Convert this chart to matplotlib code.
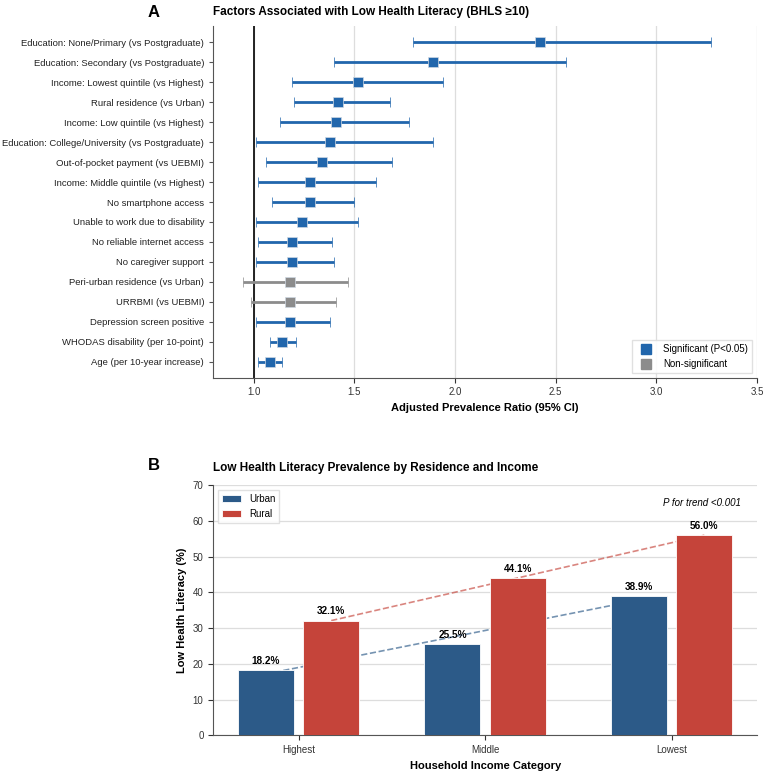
import numpy as np
import matplotlib
matplotlib.use('Agg')
import matplotlib.pyplot as plt
from matplotlib.lines import Line2D

plt.rcParams['font.family'] = ['Liberation Sans', 'DejaVu Sans']

# Panel A: adjusted prevalence ratios
factors = [
    'Education: None/Primary (vs Postgraduate)',
    'Education: Secondary (vs Postgraduate)',
    'Income: Lowest quintile (vs Highest)',
    'Rural residence (vs Urban)',
    'Income: Low quintile (vs Highest)',
    'Education: College/University (vs Postgraduate)',
    'Out-of-pocket payment (vs UEBMI)',
    'Income: Middle quintile (vs Highest)',
    'No smartphone access',
    'Unable to work due to disability',
    'No reliable internet access',
    'No caregiver support',
    'Peri-urban residence (vs Urban)',
    'URRBMI (vs UEBMI)',
    'Depression screen positive',
    'WHODAS disability (per 10-point)',
    'Age (per 10-year increase)',
]
apr = [2.42, 1.89, 1.52, 1.42, 1.41, 1.38, 1.34, 1.28, 1.28, 1.24,
       1.19, 1.19, 1.18, 1.18, 1.18, 1.14, 1.08]
ci_low = [1.79, 1.40, 1.19, 1.20, 1.13, 1.01, 1.06, 1.02, 1.09, 1.01,
          1.02, 1.01, 0.95, 0.99, 1.01, 1.08, 1.02]
ci_high = [3.27, 2.55, 1.94, 1.68, 1.77, 1.89, 1.69, 1.61, 1.50, 1.52,
           1.39, 1.40, 1.47, 1.41, 1.38, 1.21, 1.14]
significant = [True] * 12 + [False, False] + [True] * 3

# Panel B: prevalence by residence and income
income_cats = ['Highest', 'Middle', 'Lowest']
urban_prev = [18.2, 25.5, 38.9]
rural_prev = [32.1, 44.1, 56.0]

SIG = '#2166ac'
NONSIG = '#8c8c8c'
URBAN = '#2c5a88'
RURAL = '#c5443a'

fig = plt.figure(figsize=(7.67, 7.74), dpi=100)
axA = fig.add_axes([0.278, 0.512, 0.709, 0.454])
axB = fig.add_axes([0.278, 0.050, 0.709, 0.323])

# ---- Panel A ----
n = len(factors)
ypos = np.arange(n)[::-1]
for y, est, lo, hi, sig in zip(ypos, apr, ci_low, ci_high, significant):
    c = SIG if sig else NONSIG
    axA.errorbar(est, y, xerr=[[est - lo], [hi - est]], fmt='s', color=c,
                 ecolor=c, elinewidth=2, capsize=3.5, capthick=2,
                 markersize=7, markeredgecolor='#cfd8e3', markeredgewidth=0.5,
                 zorder=3)
axA.axvline(1.0, color='black', linewidth=1.2, zorder=2)
axA.set_yticks(ypos)
axA.set_yticklabels(factors, fontsize=6.8, color='#222222')
axA.set_xlim(0.8, 3.5)
axA.set_xticks([1.0, 1.5, 2.0, 2.5, 3.0, 3.5])
axA.tick_params(axis='x', labelsize=7, colors='#333333')
axA.tick_params(axis='y', length=3, color='#555555')
axA.grid(axis='x', color='#dddddd', linewidth=0.9, zorder=0)
axA.set_axisbelow(True)
for s in ['top', 'right']:
    axA.spines[s].set_visible(False)
for s in ['left', 'bottom']:
    axA.spines[s].set_color('#555555')
axA.set_xlabel('Adjusted Prevalence Ratio (95% CI)', fontsize=8, fontweight='bold')
axA.set_title('Factors Associated with Low Health Literacy (BHLS \u226510)',
              fontsize=8.5, fontweight='bold', loc='left', pad=8)
handles = [
    Line2D([], [], marker='s', linestyle='none', color=SIG, markersize=7,
           label='Significant (P<0.05)'),
    Line2D([], [], marker='s', linestyle='none', color=NONSIG, markersize=7,
           label='Non-significant'),
]
axA.legend(handles=handles, loc='lower right', fontsize=7, framealpha=0.9,
           edgecolor='#dddddd', fancybox=False)
fig.text(0.2, 0.984, 'A', fontsize=12, fontweight='bold', ha='center', va='center')

# ---- Panel B ----
x = np.arange(len(income_cats))
w = 0.3
off = 0.175
axB.bar(x - off, urban_prev, w, color=URBAN, edgecolor='white', linewidth=0.6,
        label='Urban', zorder=3)
axB.bar(x + off, rural_prev, w, color=RURAL, edgecolor='white', linewidth=0.6,
        label='Rural', zorder=3)
axB.plot(x - off, np.poly1d(np.polyfit(x, urban_prev, 1))(x), '--',
         color=URBAN, alpha=0.65, linewidth=1.2, zorder=2)
axB.plot(x + off, np.poly1d(np.polyfit(x, rural_prev, 1))(x), '--',
         color=RURAL, alpha=0.65, linewidth=1.2, zorder=2)
for xi, v in zip(x - off, urban_prev):
    axB.text(xi, v + 1.2, f'{v:.1f}%', ha='center', va='bottom', fontsize=7.2,
             fontweight='bold', zorder=4)
for xi, v in zip(x + off, rural_prev):
    axB.text(xi, v + 1.2, f'{v:.1f}%', ha='center', va='bottom', fontsize=7.2,
             fontweight='bold', zorder=4)
axB.set_ylim(0, 70)
axB.set_xticks(x)
axB.set_xticklabels(income_cats)
axB.tick_params(labelsize=7, colors='#333333')
axB.grid(axis='y', color='#dddddd', linewidth=0.9, zorder=0)
axB.set_axisbelow(True)
for s in ['top', 'right']:
    axB.spines[s].set_visible(False)
for s in ['left', 'bottom']:
    axB.spines[s].set_color('#555555')
axB.set_xlabel('Household Income Category', fontsize=8, fontweight='bold')
axB.set_ylabel('Low Health Literacy (%)', fontsize=8, fontweight='bold')
axB.set_title('Low Health Literacy Prevalence by Residence and Income',
              fontsize=8.5, fontweight='bold', loc='left', pad=10)
axB.legend(loc='upper left', fontsize=7, framealpha=0.9, edgecolor='#dddddd',
           fancybox=False)
axB.text(0.97, 0.93, 'P for trend <0.001', transform=axB.transAxes, ha='right',
         va='center', fontsize=7, style='italic')
fig.text(0.2, 0.399, 'B', fontsize=12, fontweight='bold', ha='center', va='center')

fig.savefig('out.png', dpi=100)
